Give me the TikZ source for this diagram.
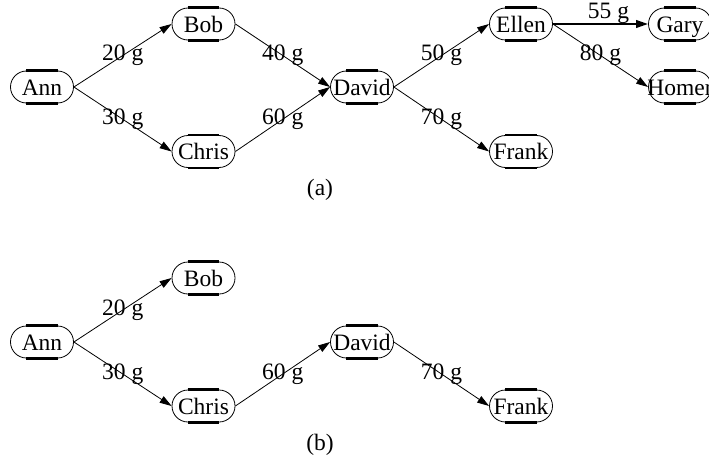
\documentclass[tikz,border=0pt]{standalone}
\usepackage{fontspec}
\setmainfont{Liberation Serif}
\usetikzlibrary{arrows.meta}
\newcommand{\nt}[1]{\makebox[0pt]{#1}}
\tikzset{
  nbox/.style={draw, line width=0.8pt, rounded corners=16pt, minimum width=63pt, minimum height=32pt,
    inner sep=0pt, text height=16.5pt, text depth=0pt},
  conn/.style={line width=0.8pt, -{Triangle[length=12pt,width=7.5pt]}},
  wlab/.style={inner sep=0pt, fill=none},
  captext/.style={inner sep=0pt},
  thickseg/.style={line width=2.6pt},
}
\begin{document}
\begin{tikzpicture}[x=1pt, y=-1pt, font=\fontsize{23.5}{28}\selectfont]
\useasboundingbox (0,0) rectangle (709,460);
% (a)
\node[nbox] (ann) at (42,87) {\nt{Ann}};
\node[nbox] (bob) at (203.5,24) {\nt{Bob}};
\node[nbox] (chris) at (203.5,151.5) {\nt{Chris}};
\node[nbox] (david) at (362,87) {\nt{David}};
\node[nbox] (ellen) at (521,24) {\nt{Ellen}};
\node[nbox] (frank) at (521,151.5) {\nt{Frank}};
\node[nbox] (gary) at (680,24) {\nt{Gary}};
\node[nbox] (homer) at (680,87) {\nt{Homer}};
\draw[conn] (ann.east) -- node[wlab] {20 g} (bob.west);
\draw[conn] (ann.east) -- node[wlab] {30 g} (chris.west);
\draw[conn] (bob.east) -- node[wlab] {40 g} (david.west);
\draw[conn] (chris.east) -- node[wlab] {60 g} (david.west);
\draw[conn] (david.east) -- node[wlab] {50 g} (ellen.west);
\draw[conn] (david.east) -- node[wlab] {70 g} (frank.west);
\draw[conn, line width=2.2pt] (ellen.east) -- node[wlab, anchor=south, xshift=8pt, yshift=-1pt] {55 g} (gary.west);
\draw[conn] (ellen.east) -- node[wlab] {80 g} (homer.west);
\node[captext] (capa) at (320,190) {(a)};
% (b)
\node[nbox] (ann2) at (42,342) {\nt{Ann}};
\node[nbox] (bob2) at (203.5,278) {\nt{Bob}};
\node[nbox] (chris2) at (203.5,406) {\nt{Chris}};
\node[nbox] (david2) at (362,342) {\nt{David}};
\node[nbox] (frank2) at (521,406) {\nt{Frank}};
\draw[conn] (ann2.east) -- node[wlab] {20 g} (bob2.west);
\draw[conn] (ann2.east) -- node[wlab] {30 g} (chris2.west);
\draw[conn] (chris2.east) -- node[wlab] {60 g} (david2.west);
\draw[conn] (david2.east) -- node[wlab] {70 g} (frank2.west);
\node[captext] (capb) at (320,445) {(b)};
% thicker straight edges of the boxes
\foreach \n in {ann,bob,chris,david,ellen,frank,gary,homer,ann2,bob2,chris2,david2,frank2}{
  \draw[thickseg] ([xshift=16pt]\n.north west) -- ([xshift=-16pt]\n.north east);
  \draw[thickseg] ([xshift=16pt]\n.south west) -- ([xshift=-16pt]\n.south east);
}
\end{tikzpicture}
\end{document}
